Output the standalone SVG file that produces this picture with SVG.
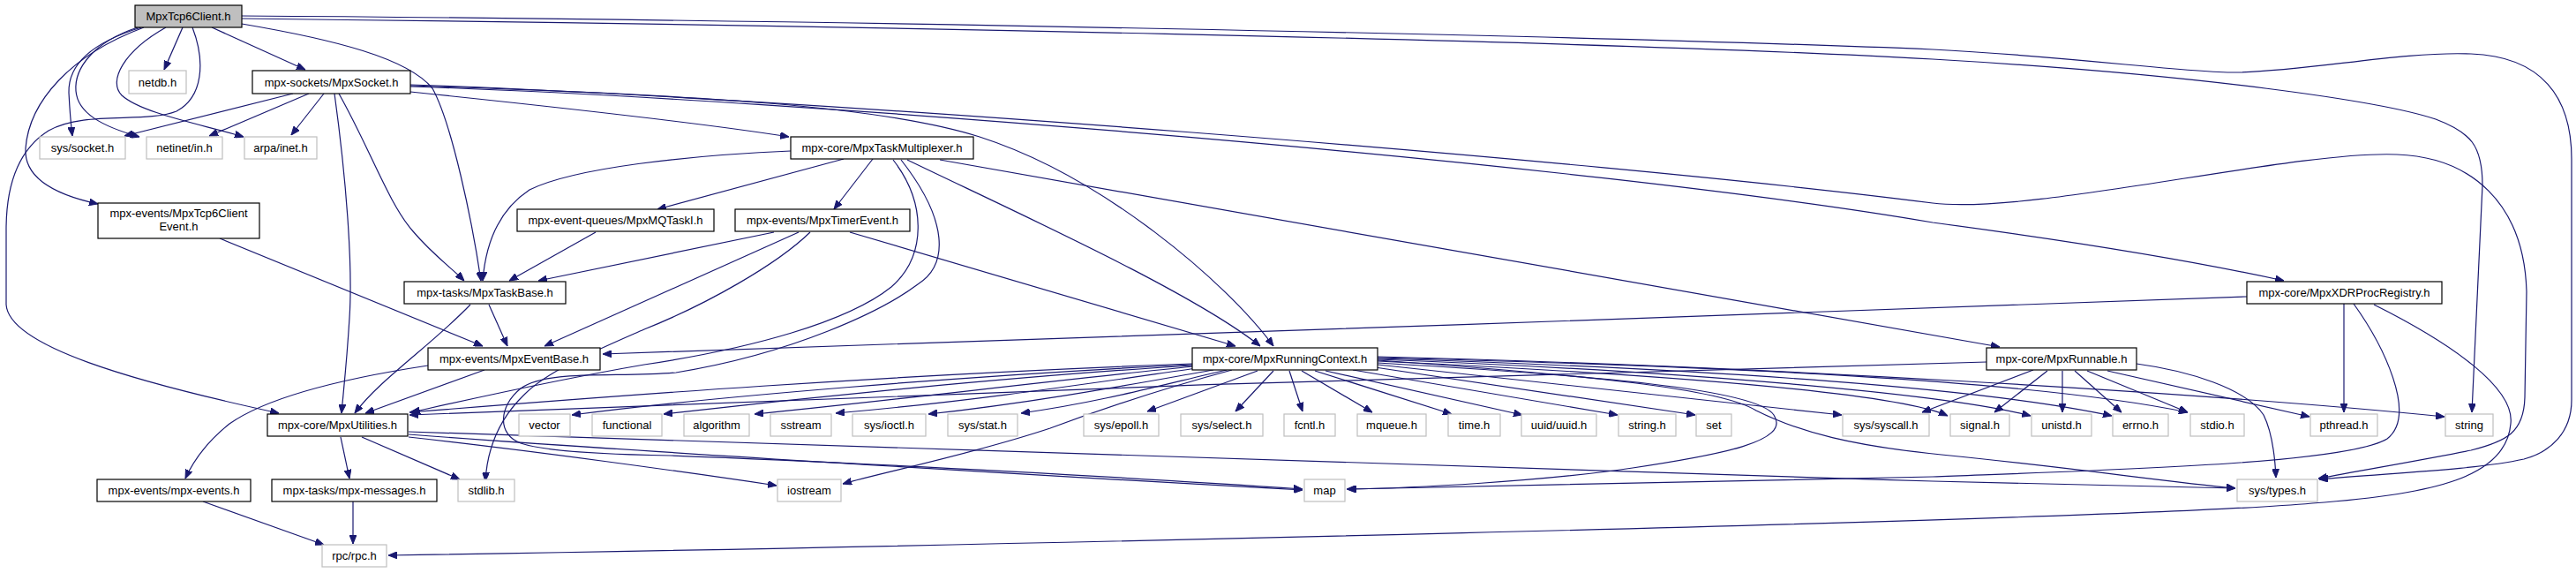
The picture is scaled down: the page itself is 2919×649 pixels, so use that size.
<svg xmlns="http://www.w3.org/2000/svg" width="2919" height="649" viewBox="0 0 2919 649">
<style>
.e path{fill:none;stroke:#191970;stroke-width:1.2;marker-end:url(#ah)}
.n rect{fill:#fff;stroke:#000;stroke-width:1.2}
.s rect{fill:#fff;stroke:#bfbfbf;stroke-width:1.2}
.r rect{fill:#bfbfbf;stroke:#000;stroke-width:1.2}
text{font-family:"Liberation Sans",Arial,sans-serif;font-size:13px;text-anchor:middle;fill:#000}
</style>
<defs>
<marker id="ah" viewBox="0 0 10 8" refX="10" refY="4" markerWidth="10" markerHeight="8" markerUnits="userSpaceOnUse" orient="auto">
<path d="M0,0 L10,4 L0,8 z" fill="#191970" stroke="#191970"/>
</marker>
</defs>
<rect width="2919" height="649" fill="#fff"/>
<g id="connectors" class="e">
<path d="M207,31 L186,79"/>
<path d="M240,31 L346,79"/>
<path d="M160,31 C105,48 77,72 78,105 C79,125 80,138 82,154"/>
<path d="M156,31 C105,48 84,78 86,103 C88,128 115,143 158,155"/>
<path d="M188,31 C140,58 122,92 138,108 C160,128 225,140 276,155"/>
<path d="M163,31 C80,62 33,115 29,168 C27,200 60,220 111,231"/>
<path d="M218,31 C233,70 230,110 200,126 C165,140 95,125 55,148 C20,170 7,210 7,260 L7,345 C10,392 150,432 316,468"/>
<path d="M274,27 C380,45 462,66 490,100 C512,140 535,250 545,318"/>
<path d="M274,18 C900,22 1800,40 2190,56 C2350,64 2480,83 2535,82 C2620,80 2720,58 2800,61 C2880,64 2914,110 2914,180 L2914,453 C2914,490 2890,512 2860,520 C2800,533 2700,536 2628,543"/>
<path d="M274,21 C900,28 1800,45 2190,67 C2500,85 2700,115 2760,135 C2800,150 2813,165 2813,210 L2801,467"/>
<path d="M332,106 L141,154"/>
<path d="M350,106 L237,154"/>
<path d="M367,106 L330,153"/>
<path d="M379,106 C392,200 400,300 396,360 C393,410 389,445 387,468"/>
<path d="M384,106 C420,170 440,230 468,262 C490,288 510,302 526,318"/>
<path d="M465,104 C600,118 800,140 894,155"/>
<path d="M465,97 C800,108 1000,120 1110,155 C1250,200 1390,320 1443,392"/>
<path d="M465,96 C900,110 1800,180 2190,230 C2300,244 2600,170 2716,175 C2800,178 2860,230 2863,330 L2861,450 C2860,490 2840,500 2800,510 C2750,520 2680,532 2627,542"/>
<path d="M465,98 C900,112 1800,185 2190,252 C2400,280 2520,303 2588,318"/>
<path d="M956,180 L745,237"/>
<path d="M989,180 L945,237"/>
<path d="M896,171 C780,176 650,190 600,215 C562,240 550,280 547,318"/>
<path d="M1028,181 C1150,240 1350,330 1428,392"/>
<path d="M1065,181 L2266,393"/>
<path d="M1012,181 C1050,230 1050,290 1010,325 C960,365 850,395 730,413 C620,432 520,455 466,467"/>
<path d="M1021,181 C1075,250 1075,300 1040,322 C1000,352 900,400 766,422 C700,428 620,418 590,440 C565,460 563,492 590,502 C620,512 700,515 760,516 C1000,525 1300,542 1476,554"/>
<path d="M877,263 L610,318"/>
<path d="M905,263 L617,392"/>
<path d="M918,263 C880,300 800,345 730,373 C680,395 620,420 594,447 C565,475 552,510 550,545"/>
<path d="M963,263 L1400,392"/>
<path d="M675,263 L577,318"/>
<path d="M249,270 L547,392"/>
<path d="M554,345 L575,392"/>
<path d="M533,345 C490,390 430,430 402,468"/>
<path d="M549,419 L414,468"/>
<path d="M485,414 C380,430 300,452 260,480 C235,500 220,520 210,542"/>
<path d="M2546,336 C2000,352 1200,388 683,401"/>
<path d="M2656,344 L2656,467"/>
<path d="M2667,344 C2700,390 2740,470 2705,497 C2660,525 2400,532 2190,540 L1527,554"/>
<path d="M2690,345 C2780,390 2850,440 2845,480 C2840,540 2760,560 2620,570 C2400,590 1000,620 440,629"/>
<path d="M2251,410 C1800,420 900,450 464,470"/>
<path d="M2304,419 L2178,467"/>
<path d="M2320,420 L2260,467"/>
<path d="M2337,420 L2337,467"/>
<path d="M2351,420 L2404,467"/>
<path d="M2365,420 L2479,467"/>
<path d="M2388,420 L2617,472"/>
<path d="M2421,412 C2480,420 2545,440 2565,470 C2575,490 2578,520 2579,541"/>
<path d="M1351,412 C1000,425 700,448 464,467"/>
<path d="M1351,413 C1100,425 800,450 648,470"/>
<path d="M1351,414 C1150,426 900,452 752,469"/>
<path d="M1353,415 C1200,430 1000,455 855,469"/>
<path d="M1356,417 C1250,432 1100,455 947,468"/>
<path d="M1375,419 C1300,432 1180,455 1052,469"/>
<path d="M1390,419 C1320,435 1250,455 1157,468"/>
<path d="M1396,419 C1300,445 1230,470 1190,485 C1100,515 1000,535 955,548"/>
<path d="M1425,420 L1300,466"/>
<path d="M1443,420 L1400,466"/>
<path d="M1461,420 L1476,466"/>
<path d="M1475,420 L1555,467"/>
<path d="M1490,420 L1645,469"/>
<path d="M1502,420 L1725,470"/>
<path d="M1533,419 L1833,470"/>
<path d="M1558,416 L1921,470"/>
<path d="M1561,413 L2087,470"/>
<path d="M1561,409 C1900,425 2150,445 2207,471"/>
<path d="M1561,407 C1900,420 2200,445 2301,471"/>
<path d="M1561,406 C1950,418 2250,440 2393,471"/>
<path d="M1561,405 C1950,415 2300,430 2479,467"/>
<path d="M1561,404 C2000,415 2500,445 2770,472"/>
<path d="M1561,408 C1800,425 1950,440 1990,465 C2040,490 2100,505 2200,515 C2350,530 2450,545 2533,553"/>
<path d="M1561,411 C1800,425 1990,440 2010,470 C2030,500 1950,515 1850,530 C1750,545 1600,553 1526,554"/>
<path d="M386,495 L396,542"/>
<path d="M410,495 L521,543"/>
<path d="M463,495 C600,510 780,535 880,550"/>
<path d="M463,492 C700,510 1200,540 1476,555"/>
<path d="M463,489 C800,500 1500,525 2190,545 L2533,553"/>
<path d="M230,568 L367,617"/>
<path d="M400,568 L400,616"/>
</g>
<g id="node-root" class="r"><rect x="153" y="6" width="121" height="25"/><text x="213.5" y="23">MpxTcp6Client.h</text></g>
<g id="node-netdb" class="s"><rect x="146" y="80" width="65" height="26"/><text x="178.5" y="97.5">netdb.h</text></g>
<g id="node-socket" class="n"><rect x="286" y="80" width="179" height="26"/><text x="375.5" y="97.5">mpx-sockets/MpxSocket.h</text></g>
<g id="node-syssocket" class="s"><rect x="45" y="155" width="97" height="25"/><text x="93.5" y="172">sys/socket.h</text></g>
<g id="node-netinet" class="s"><rect x="166" y="155" width="86" height="25"/><text x="209" y="172">netinet/in.h</text></g>
<g id="node-arpa" class="s"><rect x="277" y="155" width="82" height="25"/><text x="318" y="172">arpa/inet.h</text></g>
<g id="node-taskmux" class="n"><rect x="896" y="155" width="207" height="25"/><text x="999.5" y="172">mpx-core/MpxTaskMultiplexer.h</text></g>
<g id="node-tcpevent" class="n"><rect x="111" y="230" width="183" height="40"/><text x="202.5" y="246">mpx-events/MpxTcp6Client</text><text x="202.5" y="261">Event.h</text></g>
<g id="node-mqtask" class="n"><rect x="586" y="237" width="223" height="25"/><text x="697.5" y="254">mpx-event-queues/MpxMQTaskI.h</text></g>
<g id="node-timer" class="n"><rect x="833" y="237" width="198" height="25"/><text x="932" y="254">mpx-events/MpxTimerEvent.h</text></g>
<g id="node-taskbase" class="n"><rect x="458" y="319" width="183" height="25"/><text x="549.5" y="336">mpx-tasks/MpxTaskBase.h</text></g>
<g id="node-xdr" class="n"><rect x="2546" y="319" width="221" height="25"/><text x="2656.5" y="336">mpx-core/MpxXDRProcRegistry.h</text></g>
<g id="node-eventbase" class="n"><rect x="485" y="394" width="195" height="25"/><text x="582.5" y="411">mpx-events/MpxEventBase.h</text></g>
<g id="node-rc" class="n"><rect x="1351" y="394" width="210" height="25"/><text x="1456" y="411">mpx-core/MpxRunningContext.h</text></g>
<g id="node-runnable" class="n"><rect x="2251" y="394" width="170" height="25"/><text x="2336" y="411">mpx-core/MpxRunnable.h</text></g>
<g id="node-utilities" class="n"><rect x="303" y="469" width="159" height="25"/><text x="382.5" y="486">mpx-core/MpxUtilities.h</text></g>
<g id="node-vector" class="s"><rect x="588" y="469" width="58" height="25"/><text x="617" y="486">vector</text></g>
<g id="node-functional" class="s"><rect x="671" y="469" width="79" height="25"/><text x="710.5" y="486">functional</text></g>
<g id="node-algorithm" class="s"><rect x="775" y="469" width="74" height="25"/><text x="812" y="486">algorithm</text></g>
<g id="node-sstream" class="s"><rect x="873" y="469" width="69" height="25"/><text x="907.5" y="486">sstream</text></g>
<g id="node-ioctl" class="s"><rect x="966" y="469" width="83" height="25"/><text x="1007.5" y="486">sys/ioctl.h</text></g>
<g id="node-stat" class="s"><rect x="1074" y="469" width="79" height="25"/><text x="1113.5" y="486">sys/stat.h</text></g>
<g id="node-epoll" class="s"><rect x="1228" y="469" width="85" height="25"/><text x="1270.5" y="486">sys/epoll.h</text></g>
<g id="node-select" class="s"><rect x="1338" y="469" width="93" height="25"/><text x="1384.5" y="486">sys/select.h</text></g>
<g id="node-fcntl" class="s"><rect x="1455" y="469" width="58" height="25"/><text x="1484" y="486">fcntl.h</text></g>
<g id="node-mqueue" class="s"><rect x="1538" y="469" width="78" height="25"/><text x="1577" y="486">mqueue.h</text></g>
<g id="node-time" class="s"><rect x="1641" y="469" width="59" height="25"/><text x="1670.5" y="486">time.h</text></g>
<g id="node-uuid" class="s"><rect x="1724" y="469" width="85" height="25"/><text x="1766.5" y="486">uuid/uuid.h</text></g>
<g id="node-stringh" class="s"><rect x="1834" y="469" width="65" height="25"/><text x="1866.5" y="486">string.h</text></g>
<g id="node-set" class="s"><rect x="1922" y="469" width="40" height="25"/><text x="1942" y="486">set</text></g>
<g id="node-syscall" class="s"><rect x="2088" y="469" width="98" height="25"/><text x="2137" y="486">sys/syscall.h</text></g>
<g id="node-signal" class="s"><rect x="2210" y="469" width="67" height="25"/><text x="2243.5" y="486">signal.h</text></g>
<g id="node-unistd" class="s"><rect x="2302" y="469" width="68" height="25"/><text x="2336" y="486">unistd.h</text></g>
<g id="node-errno" class="s"><rect x="2394" y="469" width="63" height="25"/><text x="2425.5" y="486">errno.h</text></g>
<g id="node-stdio" class="s"><rect x="2482" y="469" width="61" height="25"/><text x="2512.5" y="486">stdio.h</text></g>
<g id="node-pthread" class="s"><rect x="2618" y="469" width="76" height="25"/><text x="2656" y="486">pthread.h</text></g>
<g id="node-string" class="s"><rect x="2771" y="469" width="54" height="25"/><text x="2798" y="486">string</text></g>
<g id="node-mpxevents" class="n"><rect x="110" y="543" width="174" height="25"/><text x="197" y="560">mpx-events/mpx-events.h</text></g>
<g id="node-mpxmsgs" class="n"><rect x="308" y="543" width="187" height="25"/><text x="401.5" y="560">mpx-tasks/mpx-messages.h</text></g>
<g id="node-stdlib" class="s"><rect x="519" y="543" width="64" height="25"/><text x="551" y="560">stdlib.h</text></g>
<g id="node-iostream" class="s"><rect x="881" y="543" width="72" height="25"/><text x="917" y="560">iostream</text></g>
<g id="node-map" class="s"><rect x="1478" y="543" width="46" height="25"/><text x="1501" y="560">map</text></g>
<g id="node-systypes" class="s"><rect x="2535" y="543" width="91" height="25"/><text x="2580.5" y="560">sys/types.h</text></g>
<g id="node-rpc" class="s"><rect x="365" y="617" width="73" height="25"/><text x="401.5" y="634">rpc/rpc.h</text></g>
</svg>
